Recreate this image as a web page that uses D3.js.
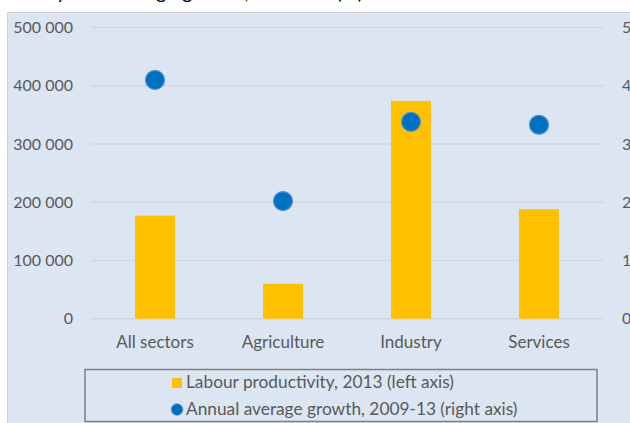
<!DOCTYPE html>
<html>
<head>
<meta charset="utf-8">
<script src="https://cdn.jsdelivr.net/npm/d3@7"></script>
<style>
  html, body { margin: 0; padding: 0; background: #ffffff; }
  svg { display: block; }
  text { font-family: Lato, "Open Sans", sans-serif; }
</style>
</head>
<body>
<svg id="chart" width="630" height="423"></svg>
<script>
// Sectors shown on the category axis
const categories = ["All sectors", "Agriculture", "Industry", "Services"];
// Labour productivity, 2013 (left axis)
const productivity2013 = [177000, 60000, 374000, 188000];
// Annual average growth, 2009-13, % (right axis)
const growth2009_13 = [4.1, 2.02, 3.38, 3.33];
// Axis ticks
const leftTicks = [0, 100000, 200000, 300000, 400000, 500000];
const rightTicks = [0, 1, 2, 3, 4, 5];
// Legend entries
const legendLabels = ["Labour productivity, 2013 (left axis)", "Annual average growth, 2009-13 (right axis)"];
const titleText = "Labour productivity and average growth, 2009-13 (%)";

const W = 630, H = 423;
const plot = { left: 91, right: 603, top: 27.5, bottom: 318.7 };
const svg = d3.select("#chart");

// Title, sitting above the top edge
svg.append("text")
  .attr("x", 363).attr("y", -1.5)
  .attr("text-anchor", "end")
  .attr("font-size", 20)
  .attr("fill", "#000")
  .text(titleText);

// Panel background
svg.append("rect")
  .attr("x", 7.5).attr("y", 12.5)
  .attr("width", W).attr("height", H)
  .attr("fill", "#dce6f2")
  .attr("stroke", "#d0d3d6").attr("stroke-width", 1);

const x = d3.scaleBand().domain(categories).range([plot.left, plot.right]);
const yL = d3.scaleLinear().domain([0, 500000]).range([plot.bottom, plot.top]);
const yR = d3.scaleLinear().domain([0, 5]).range([plot.bottom, plot.top]);

// Gridlines
svg.append("g").selectAll("line").data(leftTicks).join("line")
  .attr("x1", plot.left).attr("x2", plot.right)
  .attr("y1", d => yL(d)).attr("y2", d => yL(d))
  .attr("stroke", "#d2d6da").attr("stroke-width", 1.5);

// Left axis
const fmt = d => d3.format(",")(d).replace(/,/g, " ");
const leftAxis = d3.axisLeft(yL).tickValues(leftTicks).tickFormat(fmt).tickSize(0).tickPadding(0);
const gL = svg.append("g").attr("transform", "translate(73,0)").call(leftAxis);
gL.select(".domain").remove();
gL.selectAll("text").attr("font-size", 16).attr("fill", "#595959").attr("font-family", "Lato, sans-serif");

// Right axis
const rightAxis = d3.axisRight(yR).tickValues(rightTicks).tickFormat(d3.format("d")).tickSize(0).tickPadding(0);
const gR = svg.append("g").attr("transform", "translate(622,0)").call(rightAxis);
gR.select(".domain").remove();
gR.selectAll("text").attr("font-size", 16).attr("fill", "#595959").attr("font-family", "Lato, sans-serif");

// Bars
const barW = x.bandwidth() * 0.3125;
svg.append("g").selectAll("rect").data(categories).join("rect")
  .attr("x", (d) => x(d) + x.bandwidth() / 2 - barW / 2)
  .attr("y", (d, i) => yL(productivity2013[i]))
  .attr("width", barW)
  .attr("height", (d, i) => yL(0) - yL(productivity2013[i]))
  .attr("fill", "#ffc000");

// Growth markers
svg.append("g").selectAll("circle").data(categories).join("circle")
  .attr("cx", d => x(d) + x.bandwidth() / 2)
  .attr("cy", (d, i) => yR(growth2009_13[i]))
  .attr("r", 9.5)
  .attr("fill", "#0070c0")
  .attr("stroke", "#4f8fd0").attr("stroke-width", 1.2);

// Category labels
svg.append("g").selectAll("text").data(categories).join("text")
  .attr("x", d => x(d) + x.bandwidth() / 2)
  .attr("y", 348)
  .attr("text-anchor", "middle")
  .attr("font-size", 17)
  .attr("fill", "#595959")
  .text(d => d);

// Legend
const lg = svg.append("g");
lg.append("rect")
  .attr("x", 85).attr("y", 369.5)
  .attr("width", 512).attr("height", 52)
  .attr("fill", "none")
  .attr("stroke", "#7f7f7f").attr("stroke-width", 1.5);
lg.append("rect")
  .attr("x", 172).attr("y", 378)
  .attr("width", 10).attr("height", 10)
  .attr("fill", "#ffc000");
lg.append("circle")
  .attr("cx", 177).attr("cy", 409.5).attr("r", 5.8)
  .attr("fill", "#0070c0")
  .attr("stroke", "#4f8fd0").attr("stroke-width", 0.8);
lg.selectAll("text.leg").data(legendLabels).join("text")
  .attr("class", "leg")
  .attr("x", 186)
  .attr("y", (d, i) => 388 + i * 27)
  .attr("font-size", 17.3)
  .attr("fill", "#595959")
  .text(d => d);
</script>
</body>
</html>
